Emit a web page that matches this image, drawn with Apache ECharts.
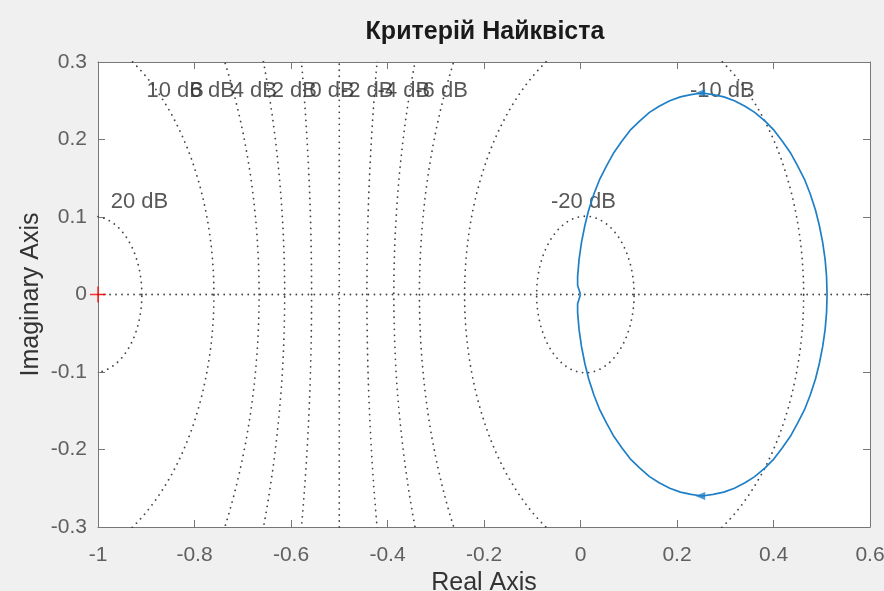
<!DOCTYPE html>
<html>
<head>
<meta charset="utf-8">
<script src="https://cdn.jsdelivr.net/npm/echarts@6/dist/echarts.min.js"></script>
<style>
html,body{margin:0;padding:0;background:#f0f0f0;}
#chart{width:884px;height:591px;}
</style>
</head>
<body>
<div id="chart"></div>
<script>
// ---- data ----
const titleText = 'Критерій Найквіста';
const xName = 'Real Axis';
const yName = 'Imaginary Axis';

// Nyquist curve (real / imaginary parts), traced around the loop
const nyqRe = [0.000,-0.006,-0.006,-0.003,0.002,0.009,0.017,0.028,0.040,0.054,0.069,0.086,0.103,0.123,0.143,0.163,0.185,0.207,0.229,0.252,0.275,0.297,0.319,0.341,0.361,0.382,0.401,0.418,0.435,0.450,0.464,0.476,0.487,0.495,0.502,0.507,0.510,0.511,
  0.510,0.507,0.502,0.495,0.487,0.476,0.464,0.450,0.435,0.418,0.401,0.382,0.361,0.341,0.319,0.297,0.275,0.252,0.229,0.207,0.185,0.163,0.143,0.123,0.103,0.086,0.069,0.054,0.040,0.028,0.017,0.009,0.002,-0.003,-0.006,-0.006,0.000];
const nyqIm = [0.000,0.012,0.023,0.045,0.067,0.089,0.109,0.130,0.149,0.166,0.183,0.198,0.212,0.224,0.235,0.243,0.250,0.255,0.258,0.260,0.258,0.255,0.250,0.243,0.235,0.224,0.212,0.198,0.183,0.166,0.149,0.130,0.109,0.089,0.067,0.045,0.023,0.000,
  -0.023,-0.045,-0.067,-0.089,-0.109,-0.130,-0.149,-0.166,-0.183,-0.198,-0.212,-0.224,-0.235,-0.243,-0.250,-0.255,-0.258,-0.260,-0.258,-0.255,-0.250,-0.243,-0.235,-0.224,-0.212,-0.198,-0.183,-0.166,-0.149,-0.130,-0.109,-0.089,-0.067,-0.045,-0.023,-0.012,0.000];

// direction arrows on the curve
const arrowRe = [0.248, 0.248];
const arrowIm = [0.260, -0.260];

// critical point
const critRe = [-1];
const critIm = [0];

// constant-magnitude (M) circle levels of the grid, dB
const gridDb = [20, 10, 6, 4, 2, -2, -4, -6, -10, -20];

// grid labels
const labelText = ['20 dB','10 dB','6 dB','4 dB','2 dB','0 dB','-2 dB','-4 dB','-6 dB','-10 dB','-20 dB'];
const labelRe   = [-0.914,-0.840,-0.763,-0.676,-0.593,-0.515,-0.442,-0.366,-0.288,0.294,0.006];
const labelIm   = [0.119, 0.263, 0.263, 0.263, 0.263, 0.263, 0.263, 0.263, 0.263, 0.263, 0.119];

// axes
const xMin = -1, xMax = 0.6, xStep = 0.2;
const yMin = -0.3, yMax = 0.3, yStep = 0.1;

// ---- build ----
function mCircle(db) {
  const M = Math.pow(10, db / 20);
  const c = -M * M / (M * M - 1);
  const r = Math.abs(M / (M * M - 1));
  const pts = [];
  for (let i = 0; i <= 720; i++) {
    const t = i / 720 * 2 * Math.PI;
    pts.push([c + r * Math.cos(t), r * Math.sin(t)]);
  }
  return pts;
}

const FONT = 'Liberation Sans, Arial, sans-serif';
const gridStyle = { color: '#444444', width: 1.8, type: [0.01, 6], cap: 'round' };
const series = [];
gridDb.forEach(db => {
  series.push({ type: 'line', data: mCircle(db), showSymbol: false, silent: true,
    lineStyle: gridStyle, clip: true, z: 1 });
});
// 0 dB line and real axis
series.push({ type: 'line', data: [[-0.5, yMin], [-0.5, yMax]], showSymbol: false, silent: true, lineStyle: gridStyle, z: 1 });
series.push({ type: 'line', data: [[xMin, 0], [xMax, 0]], showSymbol: false, silent: true, lineStyle: gridStyle, z: 1 });

// labels
series.push({ type: 'scatter', symbolSize: 1, itemStyle: { color: 'rgba(0,0,0,0)' }, silent: true, z: 3,
  data: labelText.map((t, i) => ({ name: t, value: [labelRe[i], labelIm[i]] })),
  label: { show: true, position: 'inside', formatter: '{b}', color: '#2e2e2e', fontSize: 22, fontFamily: FONT } });

// Nyquist curve
series.push({ type: 'line', data: nyqRe.map((v, i) => [v, nyqIm[i]]), showSymbol: false, smooth: false,
  lineStyle: { color: '#1f7fc6', width: 1.7 }, z: 5 });
series.push({ type: 'scatter', data: arrowRe.map((v, i) => [v, arrowIm[i]]), symbol: 'triangle',
  symbolSize: [8, 10], symbolRotate: 90, itemStyle: { color: '#1f7fc6' }, z: 6 });
// critical point
series.push({ type: 'scatter', data: critRe.map((v, i) => [v, critIm[i]]),
  symbol: 'path://M0,8 L16,8 M8,0 L8,16', symbolSize: 16,
  itemStyle: { color: 'rgba(0,0,0,0)', borderColor: '#ff0000', borderWidth: 1.5 }, z: 7, clip: false });

const axisCol = '#777';
const fmt = v => String(+v.toFixed(1));
const option = {
  backgroundColor: '#f0f0f0',
  animation: false,
  title: { text: titleText, left: 480, textAlign: 'center', top: 15,
    textStyle: { fontSize: 25, fontWeight: 'bold', color: '#1a1a1a', fontFamily: FONT } },
  grid: { left: 98, top: 62, right: 14, bottom: 64, show: true, backgroundColor: '#ffffff', borderWidth: 0,
    containLabel: false, outerBoundsMode: 'none' },
  xAxis: [
    { type: 'value', min: xMin, max: xMax, interval: xStep, position: 'bottom',
      name: xName, nameLocation: 'middle', nameGap: 39,
      nameTextStyle: { fontSize: 25, color: '#333', fontFamily: FONT },
      axisLine: { show: true, onZero: false, lineStyle: { color: axisCol } },
      axisTick: { show: true, inside: true, length: 7, lineStyle: { color: axisCol } },
      axisLabel: { formatter: fmt, margin: 18, fontSize: 21, color: '#606060', fontFamily: FONT, showMaxLabel: true },
      splitLine: { show: false } },
    { type: 'value', min: xMin, max: xMax, interval: xStep, position: 'top',
      axisLine: { show: true, onZero: false, lineStyle: { color: axisCol } },
      axisTick: { show: true, inside: true, length: 7, lineStyle: { color: axisCol } },
      axisLabel: { show: false }, splitLine: { show: false } }
  ],
  yAxis: [
    { type: 'value', min: yMin, max: yMax, interval: yStep, position: 'left',
      name: yName, nameLocation: 'middle', nameGap: 54, nameMoveOverlap: false,
      nameTextStyle: { fontSize: 25, color: '#333', fontFamily: FONT },
      axisLine: { show: true, onZero: false, lineStyle: { color: axisCol } },
      axisTick: { show: true, inside: true, length: 7, lineStyle: { color: axisCol } },
      axisLabel: { formatter: fmt, margin: 11, fontSize: 21, color: '#606060', fontFamily: FONT },
      splitLine: { show: false } },
    { type: 'value', min: yMin, max: yMax, interval: yStep, position: 'right',
      axisLine: { show: true, onZero: false, lineStyle: { color: axisCol } },
      axisTick: { show: true, inside: true, length: 7, lineStyle: { color: axisCol } },
      axisLabel: { show: false }, splitLine: { show: false } }
  ],
  series: series
};
const chart = echarts.init(document.getElementById('chart'), null, { renderer: 'canvas' });
chart.setOption(option);
</script>
</body>
</html>
